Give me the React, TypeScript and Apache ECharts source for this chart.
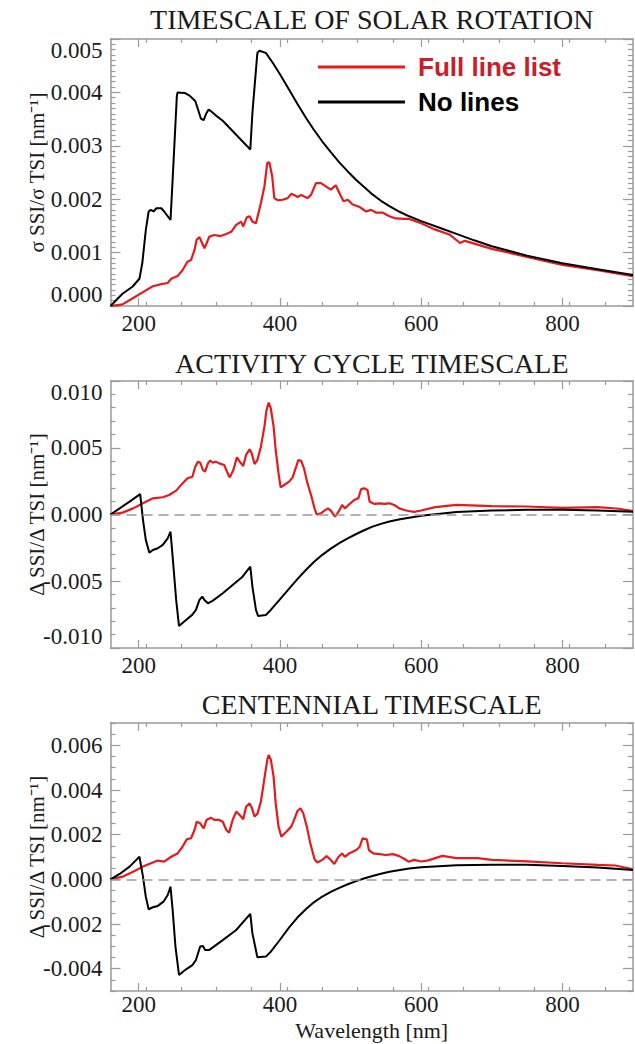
import React, { useEffect, useRef } from "react";
import * as echarts from "echarts";

// ---------- data ----------
const X_MIN = 160;
const X_MAX = 900;
const xTickLabels = [200, 400, 600, 800];

const titles = ["TIMESCALE OF SOLAR ROTATION", "ACTIVITY CYCLE TIMESCALE", "CENTENNIAL TIMESCALE"];
const yNames = ["σ SSI/σ TSI [nm⁻¹]", "Δ SSI/Δ TSI [nm⁻¹]", "Δ SSI/Δ TSI [nm⁻¹]"];
const xName = "Wavelength [nm]";
const seriesNames = ["Full line list", "No lines"];

const y1Labels = [0, 0.001, 0.002, 0.003, 0.004, 0.005];
const y2Labels = [-0.01, -0.005, 0, 0.005, 0.01];
const y3Labels = [-0.004, -0.002, 0, 0.002, 0.004, 0.006];

// Panel 1 : timescale of solar rotation
const p1BlackWl = [160,177,191,201,205,210,214,217,221,225,232,236,245,248,254,255,265,272,280,284,288,292,295,299,302,309,319,358,361,368,371,380,390,400,413,425,437,448,460,472,484,496,508,520,531,543,555,570,583,600,625,650,675,700,750,800,850,900];
const p1BlackVal = [0,0.00023,0.00036,0.00051,0.0008,0.00142,0.00177,0.0018,0.00177,0.00183,0.00183,0.00177,0.00161,0.00237,0.00394,0.004,0.00399,0.00394,0.00384,0.00368,0.00351,0.00348,0.00359,0.00368,0.00365,0.00357,0.00347,0.00293,0.00362,0.00474,0.00478,0.00474,0.00455,0.00434,0.00405,0.00378,0.00352,0.0033,0.00308,0.00288,0.00269,0.00252,0.00236,0.00222,0.00209,0.00197,0.00187,0.00176,0.00168,0.00159,0.00147,0.00135,0.00123,0.00112,0.00094,0.0008,0.00069,0.00058];
const p1RedWl = [160,177,191,206,220,232,241,246,255,262,269,274,279,282,286,290,293,296,300,307,316,324,331,338,345,348,353,357,361,366,369,373,378,382,385,389,392,397,404,411,416,420,425,430,439,444,451,458,465,472,479,484,490,496,503,512,522,529,536,545,555,564,576,583,600,620,640,655,662,680,700,750,800,850,900];
const p1RedVal = [0,0.00003,0.00014,0.00026,0.00037,0.00041,0.00043,0.00051,0.00056,0.00067,0.00083,0.00086,0.00105,0.00124,0.00129,0.00117,0.00108,0.00117,0.0013,0.00133,0.00131,0.00135,0.00139,0.00152,0.00158,0.00149,0.00166,0.00168,0.00158,0.00155,0.00171,0.00193,0.00224,0.00268,0.00269,0.00243,0.00202,0.00198,0.00199,0.00202,0.0021,0.00208,0.00204,0.00208,0.00202,0.00208,0.0023,0.0023,0.00224,0.00218,0.00226,0.00212,0.00196,0.00199,0.0019,0.00186,0.00177,0.0018,0.00175,0.00175,0.00168,0.00164,0.00163,0.00163,0.00155,0.00143,0.00134,0.00118,0.00122,0.00115,0.00107,0.00092,0.00077,0.00067,0.00056];

// Panel 2 : activity cycle timescale
const p2BlackWl = [160,173,187,202,206,210,215,220,227,234,241,245,248,253,257,267,276,281,286,290,293,298,305,319,333,347,358,361,366,369,380,387,399,413,425,437,448,460,472,484,496,508,520,531,543,555,570,583,600,650,700,750,800,850,900];
const p2BlackVal = [0,0.00046,0.00096,0.00153,-0.0004,-0.0019,-0.00286,-0.00266,-0.00253,-0.00228,-0.00179,-0.00129,-0.00316,-0.0064,-0.00835,-0.0079,-0.0075,-0.00715,-0.0064,-0.00615,-0.0064,-0.00665,-0.00645,-0.0059,-0.00528,-0.00466,-0.0039,-0.0054,-0.00715,-0.0076,-0.00753,-0.00715,-0.00642,-0.00555,-0.00482,-0.00414,-0.00356,-0.00302,-0.00256,-0.00215,-0.00179,-0.00146,-0.00116,-0.00091,-0.0007,-0.00053,-0.00036,-0.00024,-0.0001,0.00018,0.0003,0.00035,0.00035,0.0003,0.0002];
const p2RedWl = [160,177,192,206,220,234,243,253,262,269,276,280,284,287,291,294,298,301,305,309,314,321,326,329,334,339,343,348,352,357,360,364,368,373,378,381,384,387,391,394,398,401,406,413,418,423,426,430,434,439,444,449,452,458,463,468,472,478,483,488,492,497,505,511,515,519,524,527,534,541,548,555,562,569,576,582,590,600,620,650,700,750,800,850,880,900];
const p2RedVal = [0,0.00014,0.00046,0.00084,0.00121,0.00129,0.00146,0.00179,0.00233,0.00271,0.00283,0.00358,0.00396,0.00388,0.00333,0.00321,0.00383,0.00403,0.00388,0.00396,0.00383,0.00371,0.00308,0.00278,0.00333,0.00428,0.00396,0.00363,0.00446,0.00488,0.00458,0.00378,0.00408,0.00508,0.00658,0.00783,0.00838,0.00796,0.00658,0.00483,0.00308,0.00203,0.00221,0.00246,0.00278,0.00358,0.00408,0.00403,0.00346,0.00233,0.00146,0.00046,0,0.00009,0.00029,0.00046,0.00029,-0.00016,0.00021,0.00071,0.00046,0.00071,0.00108,0.00121,0.00191,0.00196,0.00183,0.00096,0.00079,0.00084,0.00079,0.00084,0.00071,0.00046,0.00034,0.00026,0.0002,0.0003,0.00055,0.00072,0.00062,0.0006,0.0005,0.00055,0.00043,0.00025];

// Panel 3 : centennial timescale
const p3BlackWl = [160,173,187,201,206,210,214,220,227,235,241,245,248,252,257,267,276,281,287,291,294,300,319,338,358,361,368,380,387,399,413,425,437,448,460,472,484,496,508,520,531,543,555,570,583,600,650,700,750,800,850,900];
const p3BlackVal = [0,0.00024,0.00057,0.00101,0.00012,-0.00078,-0.00134,-0.00125,-0.00119,-0.001,-0.0007,-0.00033,-0.00137,-0.00301,-0.00428,-0.00403,-0.00384,-0.00361,-0.00301,-0.00299,-0.00316,-0.00316,-0.00272,-0.00227,-0.00155,-0.00242,-0.00349,-0.00346,-0.00324,-0.00275,-0.00215,-0.0017,-0.00133,-0.00103,-0.00077,-0.00056,-0.00038,-0.00022,-0.00008,0.00005,0.00015,0.00025,0.00034,0.00042,0.00048,0.00054,0.00063,0.00065,0.00065,0.0006,0.00053,0.00042];
const p3RedWl = [160,177,192,206,220,227,236,246,255,262,268,274,279,282,287,292,296,302,307,314,319,324,328,333,338,343,348,352,357,360,364,368,373,378,382,384,387,391,394,398,402,409,416,420,425,429,433,438,443,449,453,460,466,471,477,483,488,492,498,508,513,517,523,526,532,541,550,560,569,577,582,590,600,610,630,650,680,700,750,800,850,875,900];
const p3RedVal = [0,0.00012,0.00034,0.00057,0.00075,0.00084,0.00079,0.00101,0.00116,0.00146,0.00179,0.00184,0.00221,0.00258,0.00251,0.00228,0.00266,0.00276,0.00266,0.00266,0.00258,0.00221,0.00209,0.00266,0.00303,0.00288,0.00269,0.00325,0.0034,0.00322,0.00281,0.00293,0.00348,0.00452,0.00534,0.00557,0.00537,0.0046,0.0034,0.00236,0.00191,0.00213,0.00236,0.00266,0.00307,0.00318,0.00296,0.00236,0.00161,0.0009,0.00075,0.00087,0.00104,0.0009,0.00069,0.00101,0.00116,0.00101,0.00116,0.00131,0.00146,0.00184,0.00179,0.00131,0.00116,0.00113,0.00109,0.00113,0.00104,0.0009,0.00079,0.00087,0.0008,0.00085,0.00105,0.00095,0.00095,0.00087,0.0008,0.00072,0.00065,0.00062,0.00045];

// ---------- styling / layout ----------
const GREY = "#9a9a9a";
const RED = "#e41a1c";
const RED_TEXT = "#c8202a";
const SERIF = "'Liberation Serif', 'Times New Roman', serif";
const SANS = "'Liberation Sans', Arial, sans-serif";
const GRID_LEFT = 110.5;
const GRID_W = 522.5;
const GRID_TOPS = [39, 381, 723];
const GRID_H = [267, 267, 268];
const TITLE_TOPS = [5, 349, 690];
const X_LABEL_MARGIN = [7, 7, 3];
const PLOT_CX = GRID_LEFT + GRID_W / 2;

const pairs = (wl: number[], v: number[]) => wl.map((w, i) => [w, v[i]]);

function minorTicks(min: number, max: number, step: number, majorStep: number) {
  const out: number[] = [];
  const n = Math.round((max - min) / step);
  for (let i = 0; i <= n; i++) {
    const v = Math.round((min + i * step) * 1e6) / 1e6;
    const r = v / majorStep;
    if (Math.abs(r - Math.round(r)) > 1e-6) out.push(v);
  }
  return out;
}

const panels = [
  { yMin: 0, yMax: 0.005, labels: y1Labels, minorStep: 0.0001, majorStep: 0.001,
    red: pairs(p1RedWl, p1RedVal), black: pairs(p1BlackWl, p1BlackVal), zero: false, endAlign: true },
  { yMin: -0.01, yMax: 0.01, labels: y2Labels, minorStep: 0.001, majorStep: 0.005,
    red: pairs(p2RedWl, p2RedVal), black: pairs(p2BlackWl, p2BlackVal), zero: true, endAlign: true },
  { yMin: -0.005, yMax: 0.007, labels: y3Labels, minorStep: 0.0005, majorStep: 0.002,
    red: pairs(p3RedWl, p3RedVal), black: pairs(p3BlackWl, p3BlackVal), zero: true, endAlign: false },
];

const xMinor = minorTicks(X_MIN, X_MAX, 50, 200).filter((v) => v > X_MIN && v < X_MAX);

function buildOption() {
  const grids: any[] = [];
  const xAxes: any[] = [];
  const yAxes: any[] = [];
  const series: any[] = [];
  const tickStyle = { color: GREY, width: 1.2 };
  const lineStyle = { color: GREY, width: 1.5 };

  panels.forEach((p, g) => {
    grids.push({ left: GRID_LEFT, top: GRID_TOPS[g], width: GRID_W, height: GRID_H[g], containLabel: false, outerBoundsMode: "none" });
    const yMinor = minorTicks(p.yMin, p.yMax, p.minorStep, p.majorStep);
    const xBase = { type: "value", gridIndex: g, min: X_MIN, max: X_MAX, splitLine: { show: false } };
    const isLast = g === panels.length - 1;
    // bottom major (with labels)
    xAxes.push({
      ...xBase, position: "bottom",
      axisLine: { show: true, onZero: false, lineStyle },
      axisTick: { show: true, inside: true, length: 8, customValues: xTickLabels, lineStyle: tickStyle },
      axisLabel: { show: true, customValues: xTickLabels, fontSize: 23, lineHeight: 20, color: "#1a1a1a", fontFamily: SERIF, margin: X_LABEL_MARGIN[g] },
      ...(isLast ? { name: xName, nameLocation: "middle", nameGap: 28, nameMoveOverlap: false,
        nameTextStyle: { fontSize: 22, lineHeight: 22, color: "#1a1a1a", fontFamily: SERIF } } : {}),
    });
    // bottom minor
    xAxes.push({
      ...xBase, position: "bottom",
      axisLine: { show: false, onZero: false },
      axisTick: { show: true, inside: true, length: 4, customValues: xMinor, lineStyle: tickStyle },
      axisLabel: { show: false },
    });
    // top major
    xAxes.push({
      ...xBase, position: "top",
      axisLine: { show: true, onZero: false, lineStyle },
      axisTick: { show: true, inside: true, length: 8, customValues: xTickLabels, lineStyle: tickStyle },
      axisLabel: { show: false },
    });
    // top minor
    xAxes.push({
      ...xBase, position: "top",
      axisLine: { show: false, onZero: false },
      axisTick: { show: true, inside: true, length: 4, customValues: xMinor, lineStyle: tickStyle },
      axisLabel: { show: false },
    });

    const yBase = { type: "value", gridIndex: g, min: p.yMin, max: p.yMax, splitLine: { show: false } };
    yAxes.push({
      ...yBase, position: "left",
      axisLine: { show: true, onZero: false, lineStyle },
      axisTick: { show: true, inside: true, length: 10, customValues: p.labels, lineStyle: tickStyle },
      axisLabel: {
        show: true, customValues: p.labels, fontSize: 23, color: "#1a1a1a", fontFamily: SERIF, margin: 8,
        formatter: (v: number) => v.toFixed(3),
        ...(p.endAlign ? { verticalAlignMaxLabel: "top", verticalAlignMinLabel: "bottom" } : {}),
      },
      name: yNames[g], nameLocation: "middle", nameRotate: 90, nameGap: 63, nameMoveOverlap: false,
      nameTextStyle: { fontSize: 21, color: "#1a1a1a", fontFamily: SERIF },
    });
    yAxes.push({
      ...yBase, position: "left",
      axisLine: { show: false, onZero: false },
      axisTick: { show: true, inside: true, length: 5, customValues: yMinor, lineStyle: tickStyle },
      axisLabel: { show: false },
    });
    yAxes.push({
      ...yBase, position: "right",
      axisLine: { show: true, onZero: false, lineStyle },
      axisTick: { show: true, inside: true, length: 10, customValues: p.labels, lineStyle: tickStyle },
      axisLabel: { show: false },
    });
    yAxes.push({
      ...yBase, position: "right",
      axisLine: { show: false, onZero: false },
      axisTick: { show: true, inside: true, length: 5, customValues: yMinor, lineStyle: tickStyle },
      axisLabel: { show: false },
    });

    series.push({
      name: seriesNames[0], type: "line", xAxisIndex: 4 * g, yAxisIndex: 4 * g,
      data: p.red, showSymbol: false, symbol: "none", color: RED,
      lineStyle: { color: RED, width: 2.2 },
      ...(p.zero ? { markLine: { silent: true, symbol: ["none", "none"], label: { show: false },
        lineStyle: { color: GREY, type: [10, 6], width: 1.5 }, data: [{ yAxis: 0 }] } } : {}),
    });
    series.push({
      name: seriesNames[1], type: "line", xAxisIndex: 4 * g, yAxisIndex: 4 * g,
      data: p.black, showSymbol: false, symbol: "none", color: "#000",
      lineStyle: { color: "#000", width: 2 },
    });
  });

  return {
    animation: false,
    textStyle: { fontFamily: SERIF },
    title: titles.map((t, i) => ({
      text: t, left: PLOT_CX, top: TITLE_TOPS[i], textAlign: "center", padding: 0,
      textStyle: { fontFamily: SERIF, fontSize: 28, fontWeight: "normal", color: "#1a1a1a" },
    })),
    legend: {
      orient: "vertical", left: 318, top: 54, padding: 0, itemGap: 9,
      itemWidth: 87, itemHeight: 3, icon: "rect",
      textStyle: { fontFamily: SANS, fontWeight: "bold", fontSize: 26, lineHeight: 26, padding: [0, 0, 0, 8] },
      data: [
        { name: seriesNames[0], textStyle: { color: RED_TEXT } },
        { name: seriesNames[1], textStyle: { color: "#000" } },
      ],
    },
    grid: grids,
    xAxis: xAxes,
    yAxis: yAxes,
    series,
  };
}

export default function App() {
  const ref = useRef<HTMLDivElement>(null);
  useEffect(() => {
    if (!ref.current) return;
    const chart = echarts.init(ref.current, null, { renderer: "svg" });
    chart.setOption(buildOption() as any);
    return () => chart.dispose();
  }, []);
  return (
    <div
      ref={ref}
      style={{ position: "absolute", left: 0, top: 0, width: 635, height: 1044, background: "#fff" }}
    />
  );
}
